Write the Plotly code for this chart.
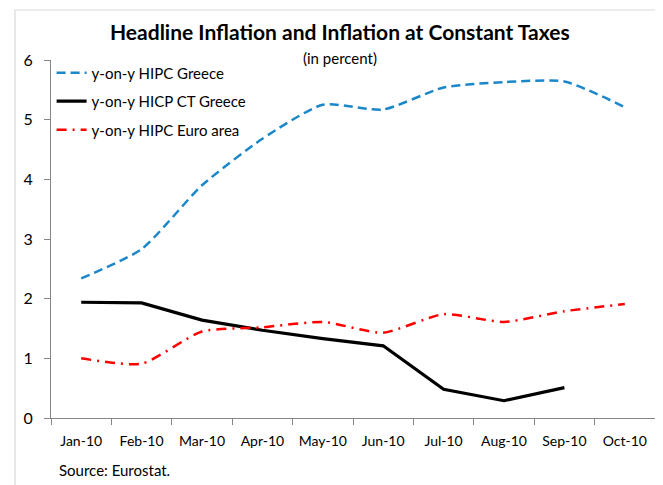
import plotly.graph_objects as go

months = ["Jan-10", "Feb-10", "Mar-10", "Apr-10", "May-10", "Jun-10",
          "Jul-10", "Aug-10", "Sep-10", "Oct-10"]
hipc_greece = [2.34, 2.83, 3.90, 4.68, 5.25, 5.17, 5.54, 5.63, 5.64, 5.21]
hicp_ct_greece = [1.94, 1.93, 1.64, 1.47, 1.33, 1.21, 0.48, 0.29, 0.51]
hipc_euro = [1.00, 0.91, 1.45, 1.52, 1.61, 1.43, 1.74, 1.61, 1.79, 1.91]
y_ticks = [0, 1, 2, 3, 4, 5, 6]

FONT = "Lato, Arial, sans-serif"

fig = go.Figure()
fig.add_trace(go.Scatter(
    x=months, y=hipc_greece, mode="lines", name="y-on-y HIPC Greece",
    line=dict(color="#1b87c9", width=2.5, dash="9px,5px", shape="spline", smoothing=0.6),
    legendgroup="a"))
fig.add_trace(go.Scatter(
    x=months[:len(hicp_ct_greece)], y=hicp_ct_greece, mode="lines",
    name="y-on-y HICP CT Greece",
    line=dict(color="#000000", width=3.2), legendgroup="b"))
fig.add_trace(go.Scatter(
    x=months, y=hipc_euro, mode="lines", name="y-on-y HIPC Euro area",
    line=dict(color="#ff0000", width=2.5, dash="10px,6px,2px,6px", shape="spline", smoothing=0.6),
    legendgroup="c"))

# page body has an 8px margin, so the figure is sized/offset to compensate
fig.update_layout(
    width=655, height=477,
    margin=dict(l=43, r=8, t=52, b=67, autoexpand=False),
    paper_bgcolor="white", plot_bgcolor="white",
    font=dict(family=FONT, size=15, color="#000000"),
    showlegend=True,
    legend=dict(x=0.001, y=1.01, xanchor="left", yanchor="top",
                bgcolor="rgba(0,0,0,0)", font=dict(size=15, family=FONT),
                traceorder="grouped", tracegroupgap=6),
    xaxis=dict(type="category", range=[-0.5, 9.5], showgrid=False,
               showline=True, linecolor="#868686", linewidth=1,
               ticks="outside", tickson="boundaries", ticklen=6,
               tickcolor="#868686", tickfont=dict(size=14, family=FONT),
               tickangle=0, ticklabelstandoff=10, fixedrange=True,
               automargin=False),
    yaxis=dict(range=[0, 6], tickvals=y_ticks, showgrid=False, zeroline=False,
               showline=True, linecolor="#868686", linewidth=1,
               ticks="outside", ticklen=6, tickcolor="#868686",
               tickfont=dict(size=16, family=FONT), ticklabelstandoff=8,
               fixedrange=True, automargin=False),
    shapes=[dict(type="rect", xref="paper", yref="paper",
                 x0=-0.0596, x1=1.2, y0=-0.4, y1=1.1397,
                 line=dict(color="#d9d9d9", width=1.2), layer="below")],
    annotations=[
        dict(text="<b>Headline Inflation and Inflation at Constant Taxes</b>",
             xref="paper", yref="paper", x=0.479, y=1.08, xanchor="center",
             yanchor="middle", showarrow=False, font=dict(size=21, family=FONT)),
        dict(text="(in percent)", xref="paper", yref="paper", x=0.479, y=1.005,
             xanchor="center", yanchor="middle", showarrow=False,
             font=dict(size=15, family=FONT)),
        dict(text="Source: Eurostat.", xref="paper", yref="paper", x=0.01,
             y=-0.145, xanchor="left", yanchor="middle", showarrow=False,
             font=dict(size=15, family=FONT)),
    ],
)

fig.write_html("out.html")
